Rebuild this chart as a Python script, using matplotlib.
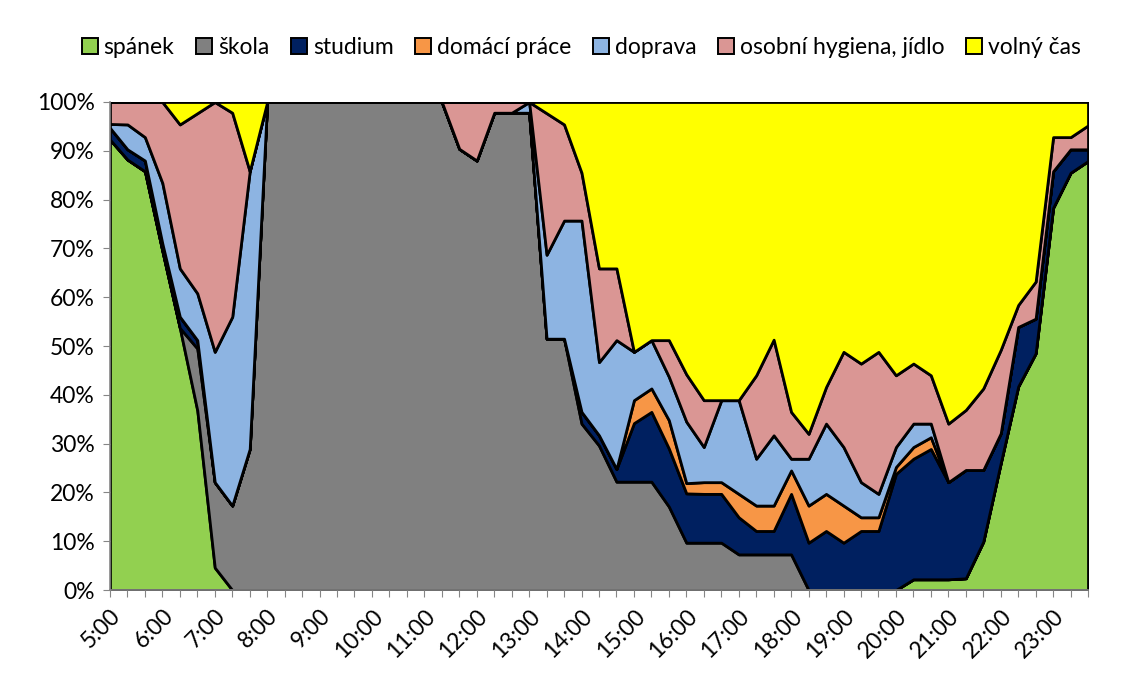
import numpy as np
import matplotlib.pyplot as plt
from matplotlib.patches import Patch
from matplotlib.ticker import FuncFormatter

plt.rcParams['font.family'] = ['Lato', 'DejaVu Sans']

# one value every 20 minutes, 5:00 .. 23:40 (shares in %)
series_names = ['spánek', 'škola', 'studium', 'domácí práce', 'doprava',
                'osobní hygiena, jídlo', 'volný čas']
colors = ['#92D050', '#808080', '#002060', '#F79646', '#8DB4E2', '#DA9694', '#FFFF00']

spanek = [92.3, 88.2, 85.8, 69.5, 53.7, 36.8, 4.6, 0, 0, 0,
          0, 0, 0, 0, 0, 0, 0, 0, 0, 0,
          0, 0, 0, 0, 0, 0, 0, 0, 0, 0,
          0, 0, 0, 0, 0, 0, 0, 0, 0, 0,
          0, 0, 0, 0, 0, 0, 2.2, 2.2, 2.2, 2.4,
          9.9, 26.0, 41.7, 48.5, 78.3, 85.5, 87.9]
skola = [0, 0, 0, 0, 0, 12.7, 17.5, 17.3, 28.9, 100,
         100, 100, 100, 100, 100, 100, 100, 100, 100, 100,
         90.4, 88.0, 97.8, 97.8, 97.8, 51.5, 51.5, 34.1, 29.6, 22.2,
         22.2, 22.2, 17.1, 9.7, 9.7, 9.7, 7.3, 7.3, 7.3, 7.3,
         0, 0, 0, 0, 0, 0, 0, 0, 0, 0,
         0, 0, 0, 0, 0, 0, 0]
studium = [2.4, 2.1, 2.2, 1.5, 2.3, 1.7, 0, 0, 0, 0,
           0, 0, 0, 0, 0, 0, 0, 0, 0, 0,
           0, 0, 0, 0, 0, 0, 0, 2.4, 2.1, 2.6,
           12.0, 14.3, 11.9, 10.1, 10.0, 10.0, 7.6, 4.8, 4.8, 12.4,
           9.7, 12.1, 9.7, 12.1, 12.1, 23.8, 24.7, 26.7, 19.9, 22.2,
           14.7, 6.1, 12.2, 7.1, 7.5, 4.8, 2.4]
domaci = [0, 0, 0, 0, 0, 0, 0, 0, 0, 0,
          0, 0, 0, 0, 0, 0, 0, 0, 0, 0,
          0, 0, 0, 0, 0, 0, 0, 0, 0, 0,
          4.7, 4.8, 5.8, 2.1, 2.4, 2.4, 4.8, 5.2, 5.2, 4.8,
          7.6, 7.6, 7.6, 2.8, 2.8, 1.4, 2.4, 2.4, 0, 0,
          0, 0, 0, 0, 0, 0, 0]
doprava = [0.8, 5.1, 4.8, 12.4, 9.9, 9.6, 26.7, 38.7, 56.9, 0,
           0, 0, 0, 0, 0, 0, 0, 0, 0, 0,
           0, 0, 0, 0, 2.2, 17.2, 24.2, 39.2, 15.0, 26.4,
           9.9, 9.9, 8.9, 12.6, 7.2, 16.8, 19.2, 9.6, 14.4, 2.4,
           9.6, 14.4, 12.0, 7.2, 4.8, 4.1, 4.8, 2.8, 0, 0,
           0, 0, 0, 0, 0, 0, 0]
hygiena = [4.5, 4.6, 7.2, 16.6, 29.5, 36.9, 51.2, 41.8, 0, 0,
           0, 0, 0, 0, 0, 0, 0, 0, 0, 0,
           9.6, 12.0, 2.2, 2.2, 0, 29.0, 19.7, 9.8, 19.2, 14.7,
           0, 0, 7.5, 9.7, 9.6, 0, 0, 17.1, 19.6, 9.6,
           5.1, 7.5, 19.5, 24.3, 29.1, 14.7, 12.3, 9.9, 12.0, 12.3,
           16.7, 17.1, 4.5, 7.6, 7.0, 2.5, 4.9]
volny = [0, 0, 0, 0, 4.6, 2.3, 0, 2.2, 14.2, 0,
         0, 0, 0, 0, 0, 0, 0, 0, 0, 0,
         0, 0, 0, 0, 0, 2.3, 4.6, 14.5, 34.1, 34.1,
         51.2, 48.8, 48.8, 55.8, 61.1, 61.1, 61.1, 56.0, 48.7, 63.5,
         68.0, 58.4, 51.2, 53.6, 51.2, 56.0, 53.6, 56.0, 65.9, 63.1,
         58.7, 50.8, 41.6, 36.8, 7.2, 7.2, 4.8]

hour_labels = ['5:00', '6:00', '7:00', '8:00', '9:00', '10:00', '11:00', '12:00',
               '13:00', '14:00', '15:00', '16:00', '17:00', '18:00', '19:00',
               '20:00', '21:00', '22:00', '23:00']

data = np.array([spanek, skola, studium, domaci, doprava, hygiena, volny], dtype=float)
data = data / data.sum(axis=0) * 100  # 100 % stacked
x = np.arange(data.shape[1])

fig = plt.figure(figsize=(11.29, 6.84), dpi=100)
ax = fig.add_axes([0.0974, 0.1374, 0.8663, 0.7135])
ax.stackplot(x, data, colors=colors, edgecolor='black', linewidth=2.0)

ax.set_xlim(0, len(x) - 1)
ax.set_ylim(0, 100)

# category ticks every 20 min, labels every hour
ax.set_xticks(x)
labels = [''] * len(x)
for i, lab in enumerate(hour_labels):
    labels[i * 3] = lab
ax.set_xticklabels(labels, rotation=45, ha='right', rotation_mode='anchor', fontsize=16.5)
ax.set_yticks(np.arange(0, 101, 10))
ax.yaxis.set_major_formatter(FuncFormatter(lambda v, p: f'{v:.0f}%'))
ax.tick_params(axis='y', labelsize=16.5, length=5, color='#868686', pad=6)
ax.tick_params(axis='x', length=5, color='#868686', pad=6)

for side in ['top', 'right']:
    ax.spines[side].set_visible(False)
for side in ['left', 'bottom']:
    ax.spines[side].set_color('#868686')
    ax.spines[side].set_linewidth(1.2)
    ax.spines[side].set_zorder(5)

handles = [Patch(facecolor=c, edgecolor='black', linewidth=1.4) for c in colors]
fig.legend(handles, series_names, loc='center', bbox_to_anchor=(0.515, 0.931), ncol=7,
           frameon=False, fontsize=16.5, handlelength=0.7, handleheight=0.7,
           handletextpad=0.25, columnspacing=0.95)

fig.savefig('out.png', dpi=100)
